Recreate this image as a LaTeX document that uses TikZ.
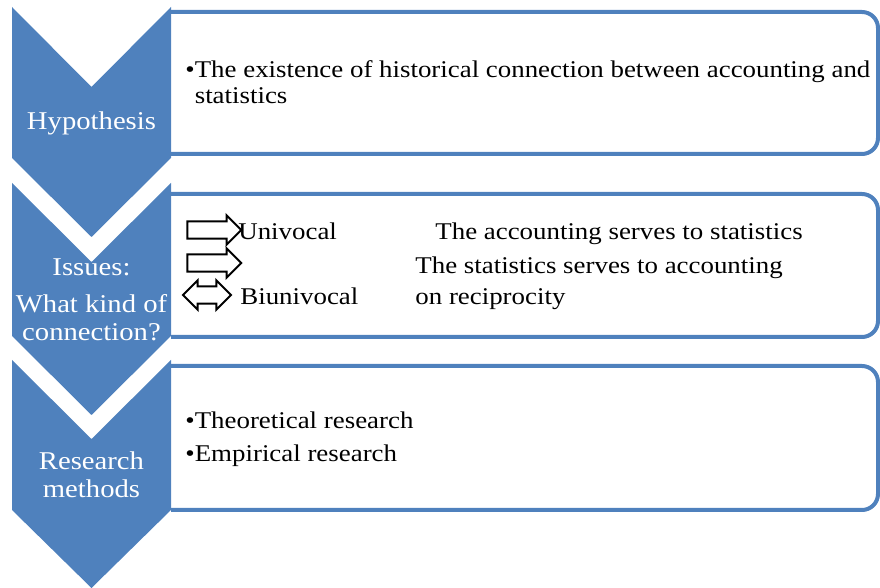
\documentclass[tikz,border=0pt]{standalone}
\usepackage{fontspec}
\setmainfont[FakeStretch=1.12]{Liberation Serif}
\usetikzlibrary{shapes.arrows}
\definecolor{chevblue}{HTML}{4F81BD}

\begin{document}
\begin{tikzpicture}[x=0.5pt, y=-0.5pt,
    chevron/.style={fill=chevblue, draw=none},
    panel/.style={draw=chevblue, line width=2pt, rounded corners=8pt},
    steplabel/.style={text=white, font=\fontsize{12.8}{14}\selectfont, align=center, inner sep=0pt, anchor=base},
    itemtext/.style={font=\fontsize{12}{13}\selectfont, align=left, inner sep=0pt, anchor=base west},
    blockarrow/.style={draw=black, fill=white, line width=1pt, inner xsep=0pt, inner ysep=3.8pt}
]
    % Fix the page to the size of the picture
    \useasboundingbox (0,0) rectangle (880,588);

    % Draw the three panels (left side hidden by the chevrons)
    \draw[panel] (171,12) -- (878,12) -- (878,154) -- (171,154);
    \draw[panel] (171,194) -- (878,194) -- (878,337) -- (171,337);
    \draw[panel] (171,366) -- (878,366) -- (878,510) -- (171,510);

    % Draw the chevrons
    \fill[chevron] (12,7) -- (91.5,87) -- (171,7) -- (171,158) -- (91.5,237) -- (12,158) -- cycle;
    \fill[chevron] (12,183) -- (91.5,262) -- (171,183) -- (171,336) -- (91.5,415) -- (12,336) -- cycle;
    \fill[chevron] (12,360) -- (91.5,439) -- (171,360) -- (171,510) -- (91.5,588) -- (12,510) -- cycle;

    % Chevron labels (base = last line)
    \node[steplabel] (hyp) at (91.5,130) {Hypothesis};
    \node[steplabel] (issues) at (91.5,276) {Issues:};
    \node[steplabel] (kind) at (91.5,341) {What kind of\\connection?};
    \node[steplabel] (methods) at (91.5,498) {Research\\methods};

    % Hypothesis panel
    \node[itemtext] (exist) at (185,104) {•The existence of historical connection between accounting and\\\phantom{•}statistics};

    % Issues panel
    \node[blockarrow, shape=single arrow, single arrow head extend=3pt, minimum height=27pt] (uni) at (210,230) {};
    \node[blockarrow, shape=single arrow, single arrow head extend=3pt, minimum height=27pt] (rev) at (210,263) {};
    \node[blockarrow, shape=double arrow, double arrow head extend=3pt, minimum height=24pt] (bi) at (207,295) {};
    \node[itemtext] (unitext) at (238,240) {Univocal};
    \node[itemtext] (bitext) at (240,305) {Biunivocal};
    \node[itemtext] (accstat) at (435,240) {The accounting serves to statistics};
    \node[itemtext] (statacc) at (415,305) {The statistics serves to accounting\\[2.5pt]on reciprocity};

    % Research methods panel
    \node[itemtext] (theory) at (185,462) {•Theoretical research\\[3.5pt]•Empirical research};
\end{tikzpicture}
\end{document}
